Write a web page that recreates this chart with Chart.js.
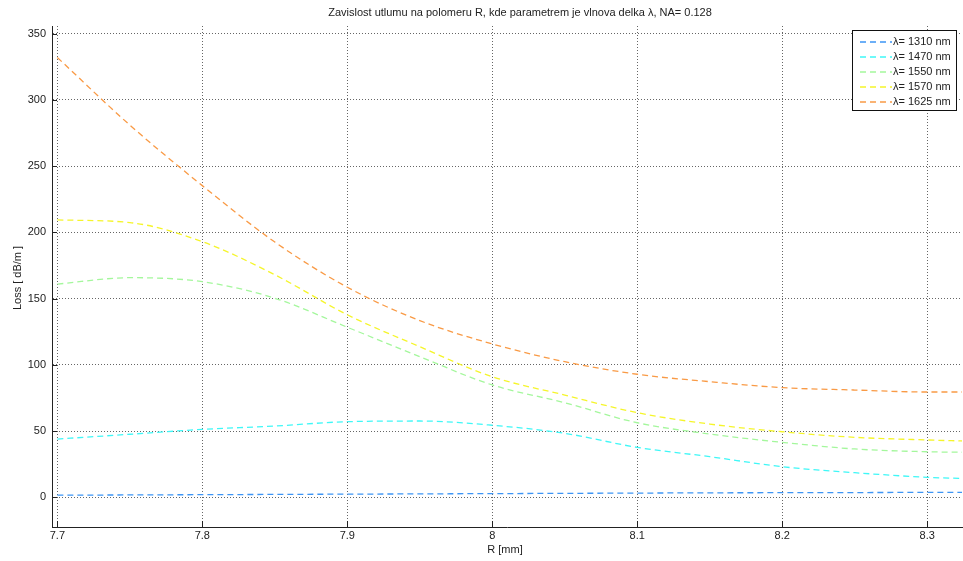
<!DOCTYPE html>
<html lang="cs">
<head>
<meta charset="UTF-8">
<title>Zavislost utlumu na polomeru R</title>
<script src="https://cdn.jsdelivr.net/npm/chart.js"></script>
<style>
  body { margin: 0; background: #fff; }
  canvas { display: block; }
</style>
</head>
<body>
<canvas id="graf" width="963" height="561"></canvas>
<script>
// polomer R [mm]
const polomer = [7.7, 7.75, 7.8, 7.85, 7.9, 7.95, 8.0, 8.05, 8.1, 8.15, 8.2, 8.25, 8.3, 8.325];

// utlum [dB/m] pro jednotlive vlnove delky
const utlum1310 = [1.6, 1.8, 2.0, 2.2, 2.4, 2.6, 2.8, 3.0, 3.2, 3.4, 3.5, 3.6, 3.7, 3.7];
const utlum1470 = [44, 47.6, 51.3, 53.8, 57.1, 57.6, 54.4, 48.3, 37.7, 30.7, 23.1, 18.6, 15.1, 14.2];
const utlum1550 = [161, 165.8, 162.8, 150.3, 128.4, 106.2, 84.8, 71.4, 56.3, 47.8, 41.5, 36.5, 34.4, 34];
const utlum1570 = [209.4, 207.4, 193, 168, 137.8, 113.7, 91, 77.2, 63.9, 55.3, 49.5, 45.3, 43.3, 42.5];
const utlum1625 = [332, 281, 235.3, 192.7, 158.6, 133.4, 115.8, 102.4, 92.9, 87.3, 82.8, 81, 79.5, 79.5];

const nazvy = ['\u03bb= 1310 nm', '\u03bb= 1470 nm', '\u03bb= 1550 nm', '\u03bb= 1570 nm', '\u03bb= 1625 nm'];
const barvy = ['#3d95f5', '#3ff7f7', '#a4f79c', '#f5f52a', '#f99a45'];

const xTicks = [7.7, 7.8, 7.9, 8.0, 8.1, 8.2, 8.3];
const xPopisky = ['7.7', '7.8', '7.9', '8', '8.1', '8.2', '8.3'];
const yTicks = [0, 50, 100, 150, 200, 250, 300, 350];

const titulek = 'Zavislost utlumu na polomeru R, kde parametrem je vlnova delka \u03bb, NA= 0.128';
const font = '"Liberation Sans", Arial, sans-serif';

const serie = [utlum1310, utlum1470, utlum1550, utlum1570, utlum1625];
const datasets = serie.map((s, i) => ({
  label: nazvy[i],
  data: polomer.map((x, j) => ({ x: x, y: s[j] })),
  borderColor: barvy[i],
  borderWidth: 1.3,
  borderDash: [6, 4],
  pointRadius: 0,
  cubicInterpolationMode: 'monotone',
  fill: false
}));

// popisky, znacky os a legenda
const doplnky = {
  id: 'doplnky',
  afterDraw(chart) {
    const c = chart.ctx;
    const a = chart.chartArea;
    const sx = chart.scales.x, sy = chart.scales.y;
    c.save();
    c.strokeStyle = '#222';
    c.lineWidth = 1;
    c.beginPath();
    yTicks.forEach(v => {
      const p = Math.round(sy.getPixelForValue(v)) + 0.5;
      c.moveTo(a.left, p); c.lineTo(a.left + 5, p);
    });
    xTicks.forEach(v => {
      const p = Math.round(sx.getPixelForValue(v)) + 0.5;
      c.moveTo(p, a.bottom); c.lineTo(p, a.bottom - 6);
    });
    c.stroke();

    c.fillStyle = '#222';
    c.font = '11px ' + font;
    c.textAlign = 'center';
    c.textBaseline = 'middle';
    c.fillText(titulek, 520, 12.5);
    c.fillText('R [mm]', 505, 550);
    c.save();
    c.translate(18, 278);
    c.rotate(-Math.PI / 2);
    c.fillText('Loss [ dB/m ]', 0, 0);
    c.restore();

    // legenda
    const lx = 852.5, ly = 30.5, lw = 104, lh = 80;
    c.fillStyle = '#fff';
    c.fillRect(lx, ly, lw, lh);
    c.strokeStyle = '#111';
    c.lineWidth = 1;
    c.strokeRect(lx, ly, lw, lh);
    c.textAlign = 'left';
    nazvy.forEach((n, i) => {
      const y = Math.round(41.7 + i * 15.15);
      c.strokeStyle = barvy[i];
      c.lineWidth = 1.5;
      c.setLineDash([6, 4]);
      c.beginPath();
      c.moveTo(860, y); c.lineTo(892, y);
      c.stroke();
      c.setLineDash([]);
      c.fillStyle = '#222';
      c.fillText(n, 893, y);
    });
    c.restore();
  }
};

new Chart(document.getElementById('graf'), {
  type: 'line',
  data: { datasets: datasets },
  options: {
    responsive: false,
    animation: false,
    layout: { padding: { top: 26, right: 1, left: 0, bottom: 0 } },
    plugins: { legend: { display: false }, title: { display: false }, tooltip: { enabled: false } },
    scales: {
      x: {
        type: 'linear',
        min: 7.6963,
        max: 8.324,
        afterBuildTicks: s => { s.ticks = xTicks.map(v => ({ value: v })); },
        afterFit: s => { s.height = 34; },
        ticks: {
          color: '#222',
          font: { family: font, size: 11 },
          padding: 2,
          maxRotation: 0,
          autoSkip: false,
          callback: (v) => xPopisky[xTicks.indexOf(v)]
        },
        grid: { color: '#666', drawTicks: false },
        border: { display: true, color: '#222', width: 1, dash: [1, 2] }
      },
      y: {
        min: -22.4,
        max: 355.8,
        afterBuildTicks: s => { s.ticks = yTicks.map(v => ({ value: v })); },
        afterFit: s => { s.width = 52; },
        ticks: {
          color: '#222',
          font: { family: font, size: 11 },
          padding: 6,
          autoSkip: false
        },
        grid: { color: '#666', drawTicks: false },
        border: { display: true, color: '#222', width: 1, dash: [1, 2] }
      }
    }
  },
  plugins: [doplnky]
});
</script>
</body>
</html>
